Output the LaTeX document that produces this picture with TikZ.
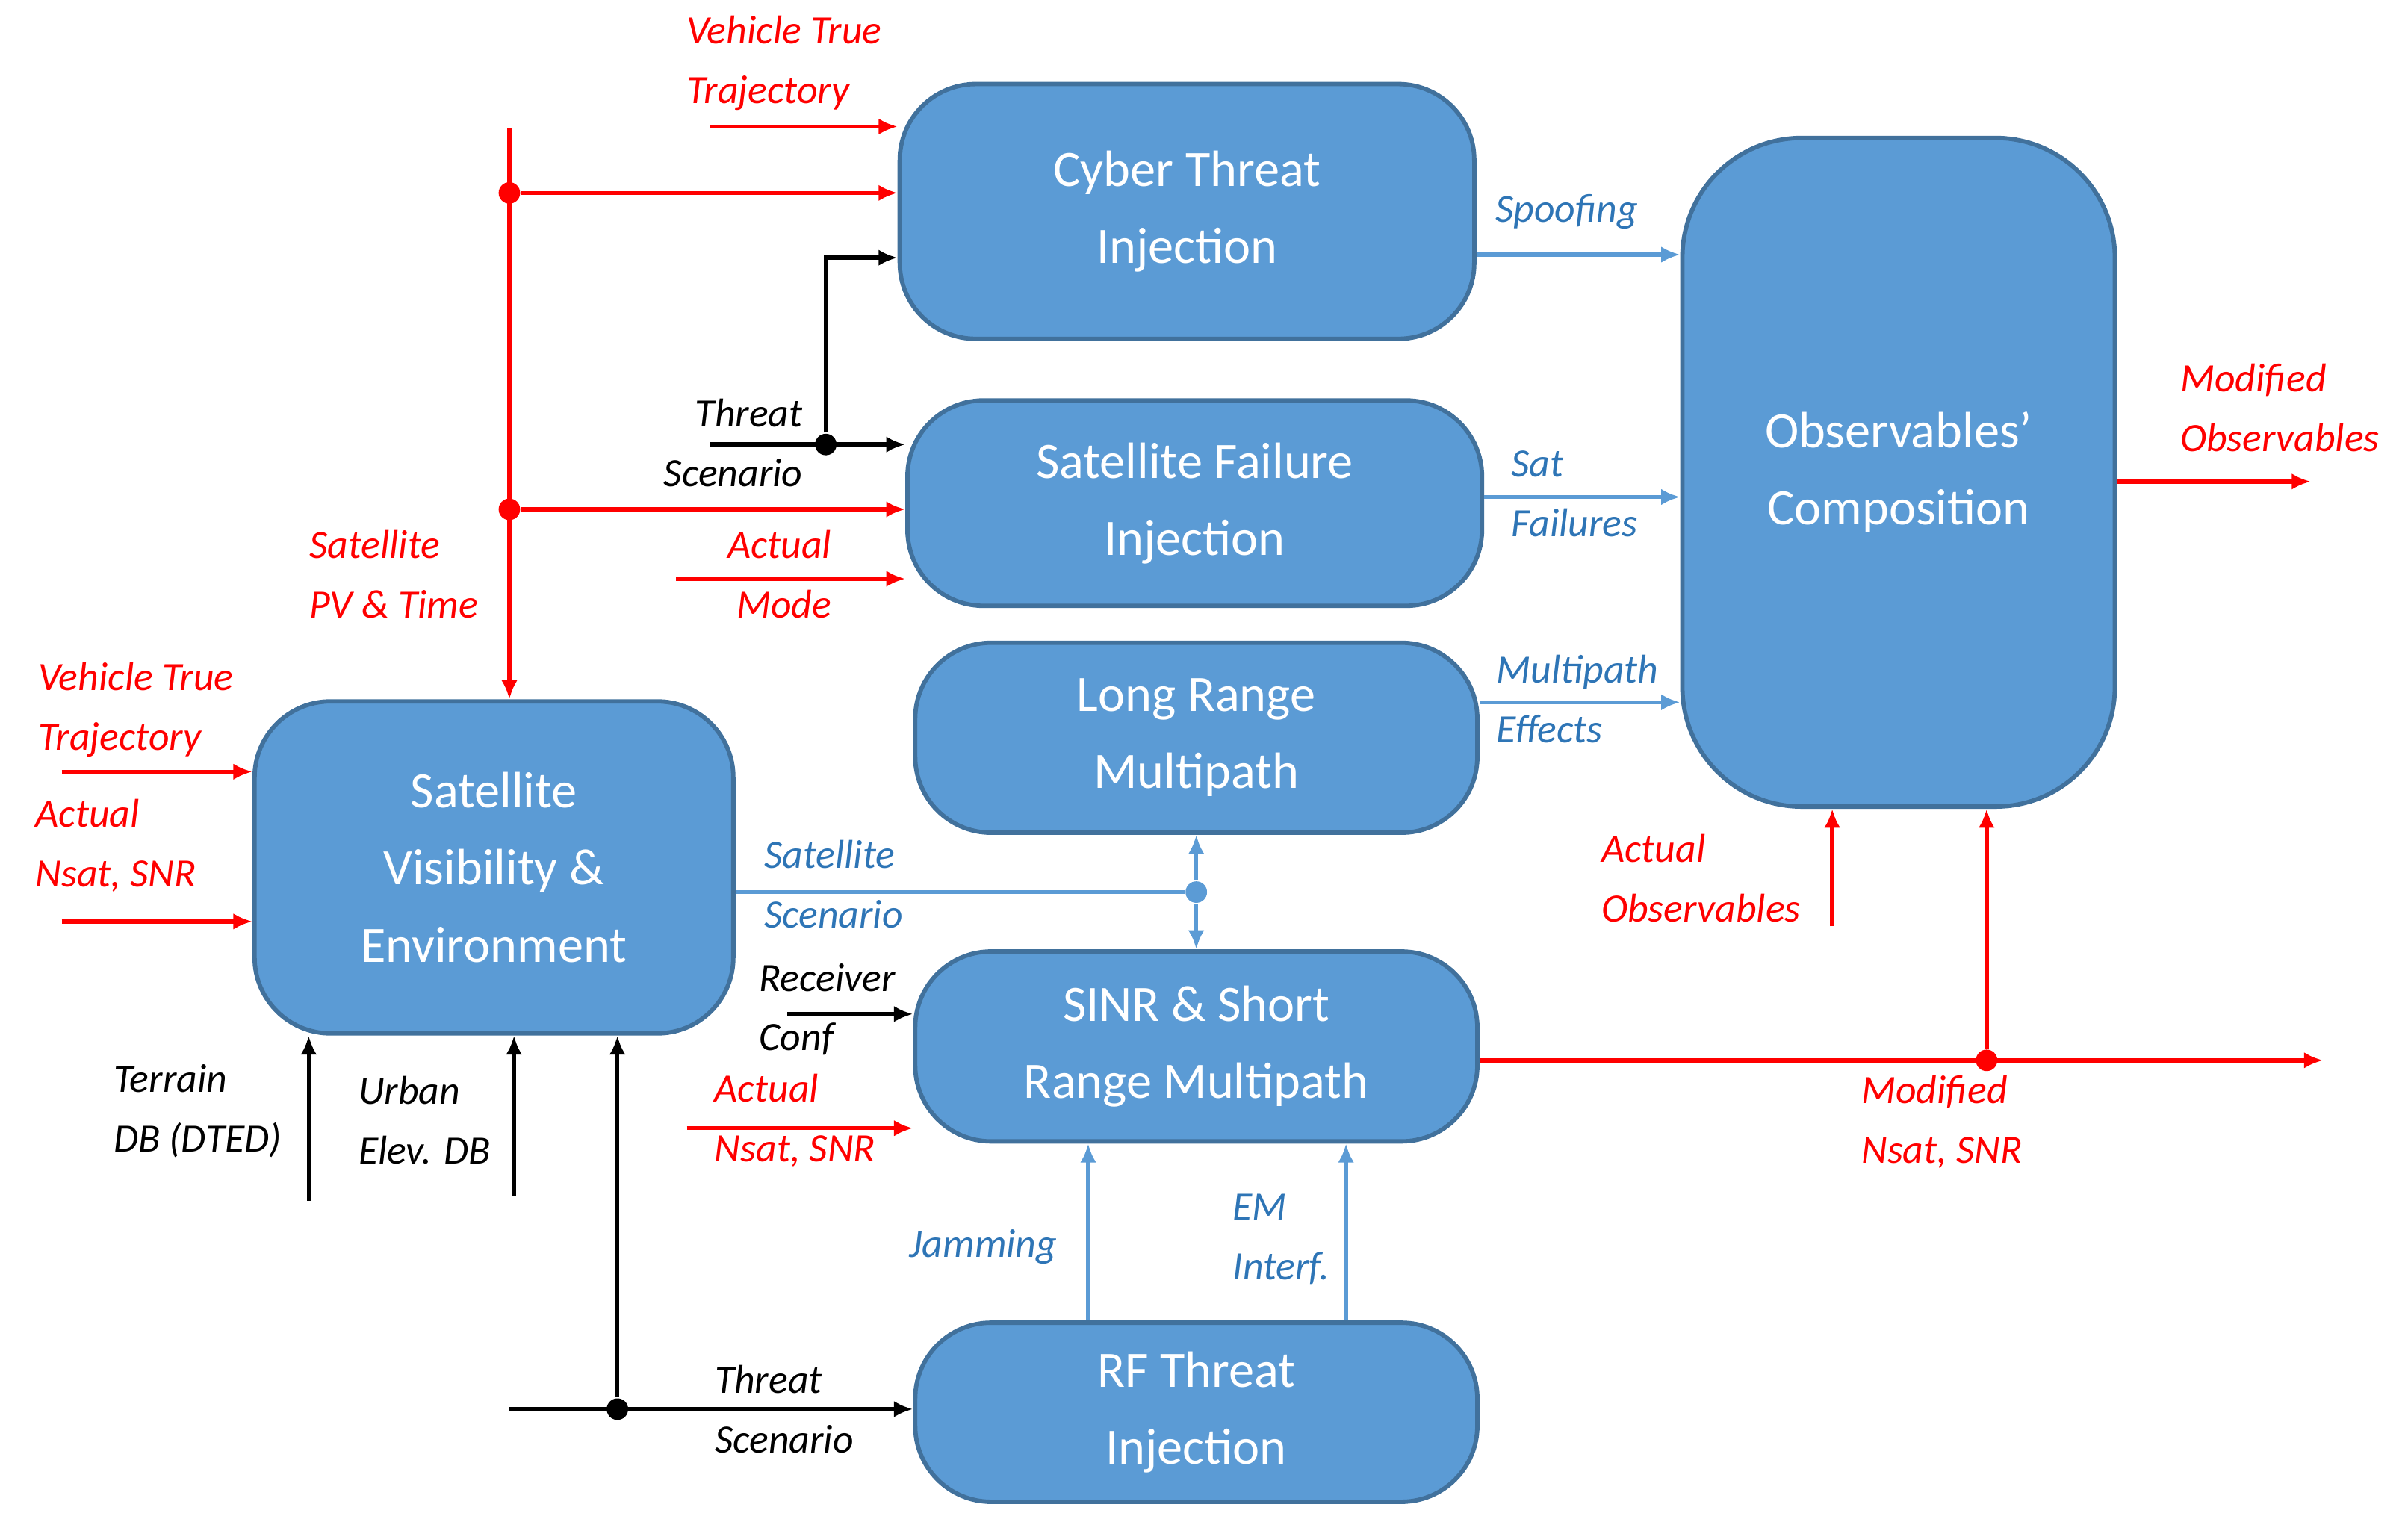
\documentclass[tikz,border=0pt]{standalone}
\usepackage{fontspec}
\setmainfont{Carlito}
\usetikzlibrary{arrows.meta}
\definecolor{boxfill}{HTML}{5B9BD5}
\definecolor{boxdraw}{HTML}{41719C}
\definecolor{lblue}{HTML}{2E75B6}
\definecolor{lnblue}{HTML}{5B9BD5}
\tikzset{
  blk/.style={rounded corners=14pt,fill=boxfill,draw=boxdraw,line width=0.8pt,text=white,
    align=center,font=\fontsize{9.4}{14.2}\selectfont},
  lbl/.style={font=\fontsize{7.4}{11}\selectfont\itshape,align=left},
  rl/.style={red,line width=0.75pt},
  bl/.style={black,line width=0.75pt},
  ul/.style={lnblue,line width=0.75pt},
  dot/.style={circle,fill,inner sep=1.4pt},
  >={Latex[length=3.5pt,width=3pt]}
}
\begin{document}
\begin{tikzpicture}[x=0.01cm,y=-0.01cm]
\useasboundingbox (0,0) rectangle (1560,984);
% blocks
\node[blk,minimum width=3.72cm,minimum height=1.65cm] (cyber) at (769,137) {Cyber Threat\\Injection};
\node[blk,minimum width=3.72cm,minimum height=1.33cm] (satfail) at (774,326) {Satellite Failure\\Injection};
\node[blk,minimum width=3.64cm,minimum height=1.23cm] (lrm) at (775,478) {Long Range\\Multipath};
\node[blk,minimum width=3.64cm,minimum height=1.23cm] (sinr) at (775,678) {SINR \& Short\\Range Multipath};
\node[blk,minimum width=3.64cm,minimum height=1.16cm] (rf) at (775,915) {RF Threat\\Injection};
\node[blk,minimum width=3.10cm,minimum height=2.15cm] (satvis) at (320,562) {Satellite\\Visibility \&\\Environment};
\node[blk,minimum width=2.80cm,minimum height=4.33cm,rounded corners=22pt] (obs) at (1230,306) {Observables'\\Composition};

% free ends and junctions
\coordinate (vt1) at (460,82);
\coordinate (pvtop) at (330,83);
\node[dot,red] (d1) at (330,125) {};
\node[dot,red] (d2) at (330,330) {};
\coordinate (ts1) at (460,288);
\node[dot] (d3) at (535,288) {};
\coordinate (am) at (438,375);
\coordinate (vt2) at (40,500);
\coordinate (an1) at (40,597);
\node[dot,lnblue] (d4) at (775,578) {};
\coordinate (rc) at (510,657);
\coordinate (an2) at (445,731);
\coordinate (mnend) at (1505,687);
\node[dot,red] (d5) at (1287,687) {};
\coordinate (aob) at (1187,600);
\coordinate (mo) at (1497,312);
\coordinate (ter) at (200,778);
\coordinate (urb) at (333,775);
\coordinate (ts2) at (330,913);
\node[dot] (d6) at (400,913) {};

% red inputs
\draw[rl,->] (vt1) -- (vt1 -| cyber.west);
\draw[rl,->] (pvtop) -- (pvtop |- satvis.north);
\draw[rl,->] (d1) -- (d1 -| cyber.west);
\draw[rl,->] (d2) -- (d2 -| satfail.west);
\draw[rl,->] (am) -- (am -| satfail.west);
\draw[rl,->] (vt2) -- (vt2 -| satvis.west);
\draw[rl,->] (an1) -- (an1 -| satvis.west);
\draw[rl,->] (an2) -- (an2 -| sinr.west);
\draw[rl,->] (sinr.east |- mnend) -- (mnend);
\draw[rl,->] (d5) -- (d5 |- obs.south);
\draw[rl,->] (aob) -- (aob |- obs.south);
\draw[rl,->] (obs.east |- mo) -- (mo);

% black inputs
\draw[bl,->] (ts1) -- (ts1 -| satfail.west);
\draw[bl,->] (d3) -- (535,167) -- (535,167 -| cyber.west);
\draw[bl,->] (rc) -- (rc -| sinr.west);
\draw[bl,->] (ter) -- (ter |- satvis.south);
\draw[bl,->] (urb) -- (urb |- satvis.south);
\draw[bl,->] (ts2) -- (ts2 -| rf.west);
\draw[bl,->] (d6) -- (d6 |- satvis.south);

% blue connectors
\draw[ul,->] (cyber.east |- 0,165) -- (obs.west |- 0,165);
\draw[ul,->] (satfail.east |- 0,322) -- (obs.west |- 0,322);
\draw[ul,->] (lrm.east |- 0,455) -- (obs.west |- 0,455);
\draw[ul] (satvis.east |- d4) -- (d4);
\draw[ul,->] (d4) -- (lrm.south);
\draw[ul,->] (d4) -- (sinr.north);
\draw[ul,->] (rf.north -| 705,0) -- (sinr.south -| 705,0);
\draw[ul,->] (rf.north -| 872,0) -- (sinr.south -| 872,0);

% labels
\node[lbl,red] (l1) at (508,41) {Vehicle True\\Trajectory};
\node[lbl,red] (l2) at (255,372) {Satellite\\PV \& Time};
\node[lbl,red,align=right] (l3) at (505,372) {Actual\\Mode};
\node[lbl,red] (l4) at (88,460) {Vehicle True\\Trajectory};
\node[lbl,red] (l5) at (75,548) {Actual\\Nsat, SNR};
\node[lbl,red] (l6) at (515,726) {Actual\\Nsat, SNR};
\node[lbl,red] (l7) at (1258,727) {Modified\\Nsat, SNR};
\node[lbl,red] (l8) at (1102,569) {Actual\\Observables};
\node[lbl,red] (l9) at (1477,264) {Modified\\Observables};
\node[lbl,align=right] (l10) at (475,287) {Threat\\Scenario};
\node[lbl] (l11) at (536,654) {Receiver\\Conf};
\node[lbl] (l12) at (128,720) {Terrain\\DB (DTED)};
\node[lbl] (l13) at (275,726) {Urban\\Elev. DB};
\node[lbl] (l14) at (508,913) {Threat\\Scenario};
\node[lbl,lblue] (l15) at (1015,137) {Spoofing};
\node[lbl,lblue] (l16) at (1020,320) {Sat\\Failures};
\node[lbl,lblue] (l17) at (1022,453) {Multipath\\Effects};
\node[lbl,lblue] (l18) at (540,573) {Satellite\\Scenario};
\node[lbl,lblue] (l19) at (637,808) {Jamming};
\node[lbl,lblue] (l20) at (830,803) {EM\\Interf.};
\end{tikzpicture}
\end{document}
